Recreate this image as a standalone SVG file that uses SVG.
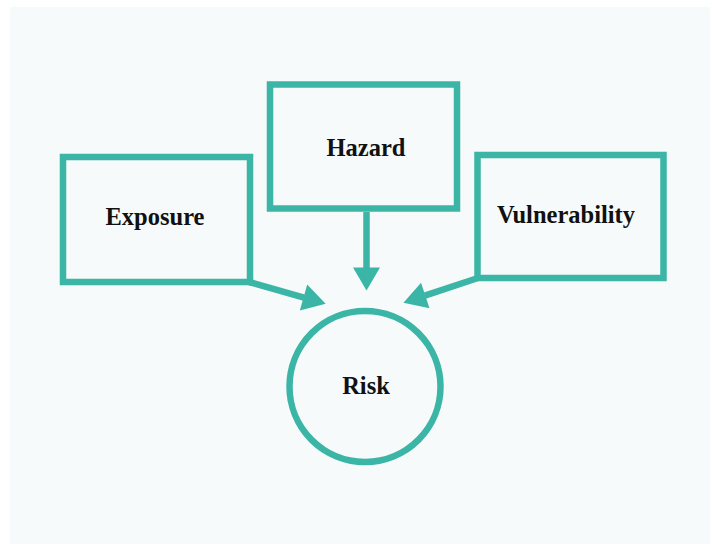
<svg xmlns="http://www.w3.org/2000/svg" width="714" height="545" viewBox="0 0 714 545">
<style>
.box{fill:none;stroke:#3bb5a6;stroke-width:6.5}
.lbl{font-family:"Liberation Serif","Times New Roman",serif;font-weight:bold;font-size:24.5px;fill:#111;text-anchor:middle}
.con{stroke:#3bb5a6;stroke-width:6.5;fill:none}
</style>
<defs>
<marker id="ah" markerUnits="userSpaceOnUse" markerWidth="24" markerHeight="28" refX="0.5" refY="13.5" orient="auto" overflow="visible">
<path d="M0,0 L23,13.5 L0,27 Z" fill="#3bb5a6"/>
</marker>
</defs>
<rect x="10" y="7" width="700" height="537" fill="#f6fafa"/>
<g id="connectors">
<line class="con" x1="366.5" y1="212" x2="366.5" y2="268" marker-end="url(#ah)"/>
<line class="con" x1="249" y1="282" x2="304" y2="297.6" marker-end="url(#ah)"/>
<line class="con" x1="478" y1="278" x2="424.8" y2="295.6" marker-end="url(#ah)"/>
</g>
<g id="exposure">
<rect class="box" x="63" y="157" width="187" height="125"/>
<text class="lbl" x="155" y="225">Exposure</text>
</g>
<g id="hazard">
<rect class="box" x="270" y="84.5" width="187" height="124"/>
<text class="lbl" x="366" y="156">Hazard</text>
</g>
<g id="vulnerability">
<rect class="box" x="477.5" y="155" width="186" height="123"/>
<text class="lbl" x="566" y="223">Vulnerability</text>
</g>
<g id="risk">
<circle class="box" cx="365" cy="386.5" r="75.5"/>
<text class="lbl" x="366" y="394">Risk</text>
</g>
</svg>
